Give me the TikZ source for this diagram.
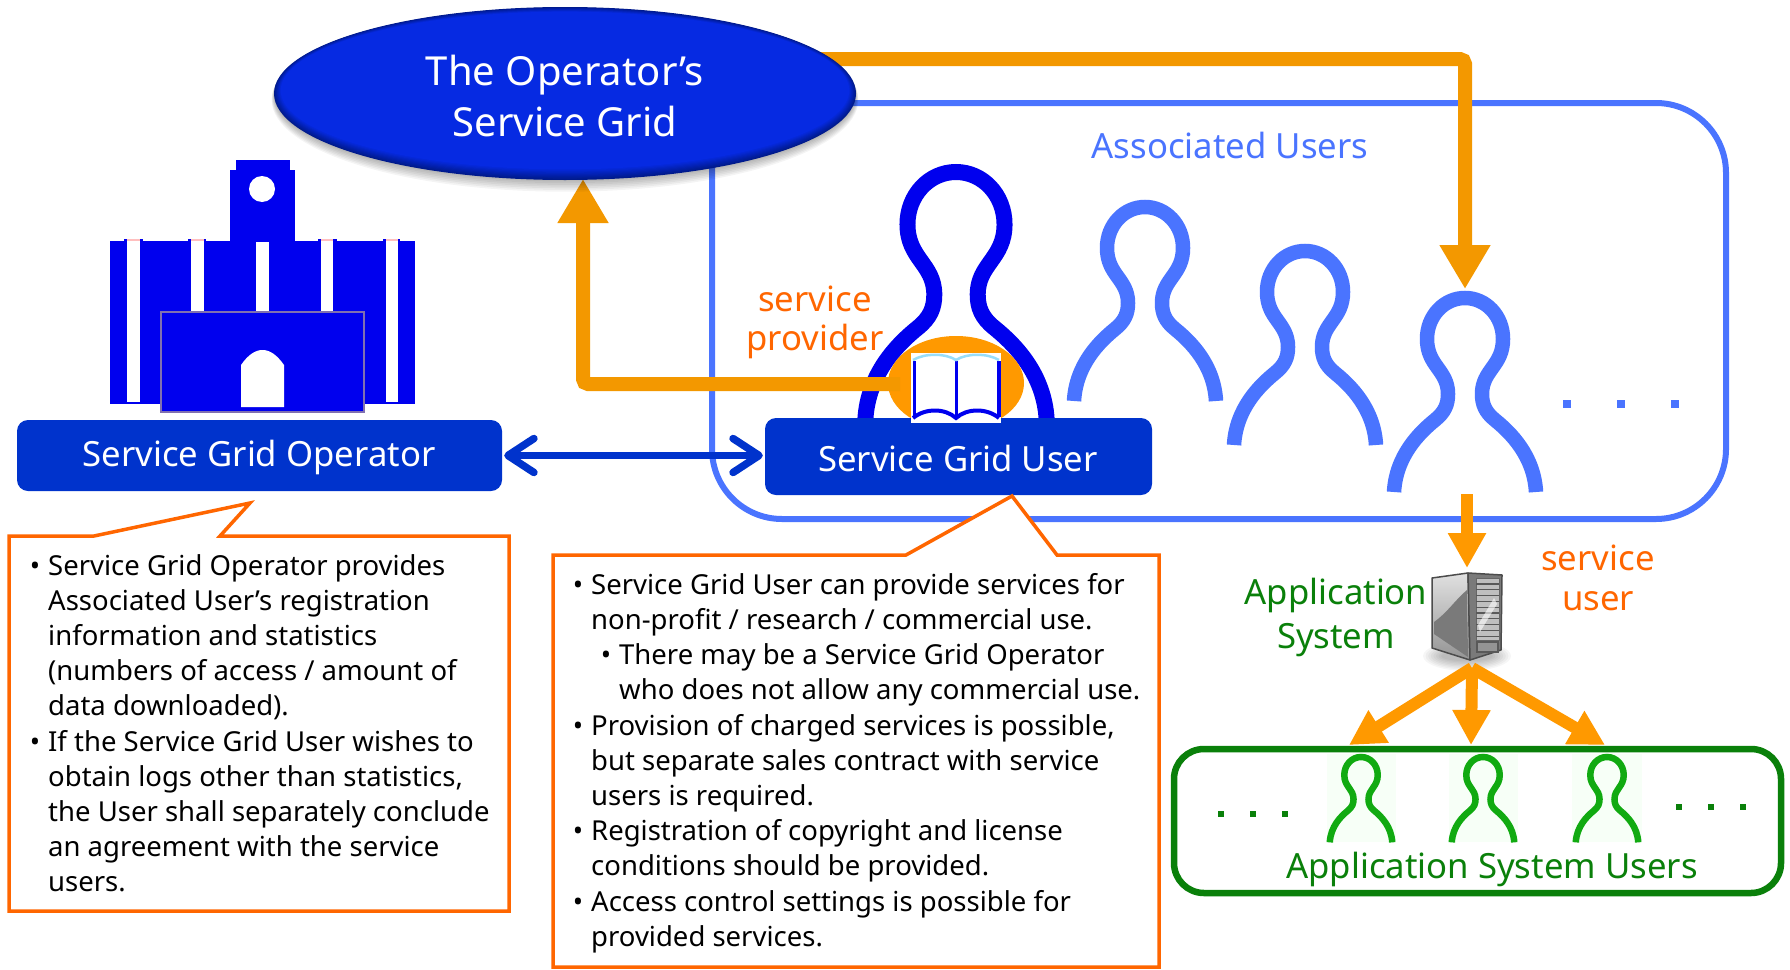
\documentclass[tikz,border=0pt]{standalone}
\usepackage{fontspec}
\setmainfont{Noto Sans}
\usetikzlibrary{arrows.meta,shapes.geometric,calc}
\definecolor{opblue}{HTML}{0033CC}
\definecolor{pure}{HTML}{0000EE}
\definecolor{assoc}{HTML}{4A74FF}
\definecolor{orbar}{HTML}{F39800}
\definecolor{orell}{HTML}{FF9900}
\definecolor{ortxt}{HTML}{FF6600}
\definecolor{gtxt}{HTML}{0A800A}
\definecolor{guser}{HTML}{11AA11}
\definecolor{ballcore}{HTML}{062AE2}
\definecolor{ballrim}{HTML}{001A8C}
\definecolor{frontline}{HTML}{8070B0}
\newcommand{\fsz}[1]{\fontsize{#1}{#1}\selectfont}
\newcommand{\bul}{\makebox[0pt][r]{•\hspace{8pt}}}
\newcommand{\personshape}[5]{% x, y, scale, colour, line width
 \draw[#4,line width=#5,shift={(#1,#2)},x=#3pt,y=-#3pt]
  (-71,194) .. controls (-69,158) and (-46,135) .. (-30,122)
  .. controls (-20,114) and (-17,106) .. (-17,96)
  .. controls (-17,72) and (-38,68) .. (-38,41)
  .. controls (-38,18) and (-21,0) .. (0,0)
  .. controls (21,0) and (38,18) .. (38,41)
  .. controls (38,68) and (17,72) .. (17,96)
  .. controls (17,106) and (20,114) .. (30,122)
  .. controls (46,135) and (69,158) .. (71,194);}
\tikzset{
 flow/.style={line width=14pt,draw=orbar,-{Triangle[length=44pt,width=48pt]}},
 flowb/.style={line width=12pt,draw=orell,-{Triangle[length=35pt,width=36pt]}},
 rolebox/.style={rectangle,rounded corners=11pt,fill=opblue,inner sep=0pt},
 callout/.style={draw=ortxt,line width=3.5pt,fill=white,line join=miter},
 note/.style={anchor=north west,align=left,inner sep=0pt,font=\fontsize{27.5}{35.2}\selectfont},
 lbl/.style={align=center,inner sep=0pt},
 dotb/.style={fill=assoc,minimum size=8pt,inner sep=0pt,rectangle},
 dotg/.style={fill=gtxt,minimum size=6pt,inner sep=0pt,rectangle},
}
\begin{document}
\begin{tikzpicture}[x=1pt,y=-1pt,line cap=butt]
\useasboundingbox (0,0) rectangle (1790,969);
\fill[white] (0,0) rectangle (1790,969);
% associated users frame
\node[draw=assoc,line width=6pt,rectangle,rounded corners=70pt,minimum width=1014pt,minimum height=416pt,inner sep=0pt] (frame) at (1219,311) {};
\node[lbl,text=assoc,font=\fsz{34.7}] (assoclbl) at (1230,145) {Associated Users};
% persons
\personshape{956}{172}{1.277}{pure}{16pt}
\personshape{1145}{207}{1}{assoc}{14.5pt}
\personshape{1305}{251}{1}{assoc}{14.5pt}
\personshape{1465}{298}{1}{assoc}{14.5pt}
\node[dotb] (d1) at (1567,404) {};
\node[dotb] (d2) at (1621,404) {};
\node[dotb] (d3) at (1675,404) {};
% named connector ends
\coordinate (topstart) at (800,59);
\coordinate (topcorner) at (1465,59);
\coordinate (u4top) at (1465,289);
\coordinate (bookw) at (900,384);
\coordinate (leftcorner) at (583,384);
\coordinate (ellbottom) at (583,179);
% orange ellipse behind the book
\node[ellipse,fill=orell,minimum width=136pt,minimum height=94pt,inner sep=0pt] (bookbg) at (956,383) {};
% connectors
\draw[flow,rounded corners=5pt] (topstart) -- (topcorner) -- (u4top);
\draw[flow,rounded corners=5pt] (bookw) -- (leftcorner) -- (ellbottom);
% Service Grid ellipse with shadow and a dark rim
\foreach \i in {0,...,6}{
 \fill[black,opacity=0.045] (565,{95+\i*0.8}) ellipse ({291+\i*0.4} and {86.5+\i*0.9});
}
\node[ellipse,fill=ballrim,minimum width=582pt,minimum height=173pt,inner sep=0pt] (grid) at (565,93.5) {};
\foreach \i in {1,...,9}{
 \pgfmathsetmacro{\mixv}{\i*11.1}
 \fill[ballcore!\mixv!ballrim] (565,{93.5-\i*0.33}) ellipse ({291-\i*0.75} and {86.5-\i*0.85});
}
\node[lbl,text=white,font=\fontsize{40}{51}\selectfont] (gridlbl) at (565,95.5) {The Operator's\\Service Grid};
% role boxes
\node[rolebox,minimum width=485pt,minimum height=71pt] (operator) at (259.5,455.5) {};
\node[lbl,text=white,font=\fsz{34.7}] (operatorlbl) at (259,457.5) {Service Grid Operator};
\node[rolebox,minimum width=387pt,minimum height=77pt] (user) at (958.5,456.5) {};
\node[lbl,text=white,font=\fsz{34.7}] (userlbl) at (958,458) {Service Grid User};
\draw[opblue,line width=7.5pt,line cap=round,line join=round,{Straight Barb[length=26pt,width=34pt,round]}-{Straight Barb[length=26pt,width=34pt,round]},shorten <=2pt,shorten >=2pt] (operator.east) -- (operator.east -| user.west);
% book
\node[fill=white,minimum width=90pt,minimum height=70pt,inner sep=0pt] (book) at (956,388) {};
\draw[pure,line width=3pt] (914,361) -- (914,417);
\draw[pure,line width=3pt] (956,361) -- (956,418);
\draw[pure,line width=4pt] (999,361) -- (999,417);
\draw[pure,line width=4pt] (913,418) .. controls (925,408) and (945,408) .. (956,418) .. controls (967,408) and (987,408) .. (999,418);
\draw[cyan!40!white,line width=2.5pt] (913,360) .. controls (925,353) and (945,353) .. (956,360) .. controls (967,353) and (987,353) .. (999,360);
% building
\fill[pure] (110,241) rectangle (415,404);
\fill[pure] (230,170) rectangle (295,242);
\fill[pure] (236,160) rectangle (290,170);
\fill[pure] (124,239) rectangle (143,241);
\fill[pure] (188,239) rectangle (206,241);
\fill[pure] (318,239) rectangle (337,241);
\fill[pure] (383,239) rectangle (400,241);
\fill[white] (262,189) circle (13pt);
\fill[white] (127,240) rectangle (140,402);
\fill[white] (191,240) rectangle (204,312);
\fill[white] (256,242) rectangle (269,312);
\fill[white] (321,240) rectangle (333,312);
\fill[white] (386,240) rectangle (398,402);
\fill[red!25!white] (127,238.5) rectangle (140,241);
\fill[red!25!white] (191,238.5) rectangle (204,241);
\fill[red!25!white] (321,238.5) rectangle (333,241);
\fill[red!25!white] (386,238.5) rectangle (398,241);
\draw[frontline,line width=1.2pt,fill=pure] (161,312) rectangle (364,412);
\fill[white] (241,407) -- (241,365) .. controls (248,355) and (255,350) .. (262.5,350) .. controls (270,350) and (277,355) .. (284,365) -- (284,407) -- cycle;
% labels
\node[lbl,text=ortxt,font=\fontsize{34.7}{38.8}\selectfont] (provider) at (815,322) {service\\provider};
\node[lbl,text=ortxt,font=\fontsize{34.7}{40}\selectfont] (serviceuser) at (1598,578) {service\\user};
\node[lbl,text=gtxt,font=\fontsize{34.7}{44}\selectfont] (appsys) at (1336,617) {Application\\System};
% callouts
\draw[callout] (9,536) -- (94,536) -- (250,503) -- (220,536) -- (509,536) -- (509,911) -- (9,911) -- cycle;
\draw[callout] (553,555) -- (906,555) -- (1012,496) -- (1057,555) -- (1159,555) -- (1159,967) -- (553,967) -- cycle;
\node[note] (notel) at (48,554) {\bul Service Grid Operator provides\\
Associated User's registration\\
information and statistics\\
(numbers of access / amount of\\
data downloaded).\\
\bul If the Service Grid User wishes to\\
obtain logs other than statistics,\\
the User shall separately conclude\\
an agreement with the service\\
users.};
\node[note] (noter) at (591,573) {\bul Service Grid User can provide services for\\
non-profit / research / commercial use.\\
\hspace*{28pt}\bul There may be a Service Grid Operator\\
\hspace*{28pt}who does not allow any commercial use.\\
\bul Provision of charged services is possible,\\
but separate sales contract with service\\
users is required.\\
\bul Registration of copyright and license\\
conditions should be provided.\\
\bul Access control settings is possible for\\
provided services.};
% application system
\coordinate (u4foot) at (1467,494);
\coordinate (srvtop) at (1467,568);
\coordinate (srvfan) at (1472,668);
\coordinate (fanl) at (1349,745);
\coordinate (fanm) at (1471,745);
\coordinate (fanr) at (1605,745);
\draw[flowb] (u4foot) -- (srvtop);
% server
\foreach \i in {0,...,7}{
 \fill[black,opacity=0.035] (1467,656) ellipse ({44-\i*2.6} and {15-\i*1.4});
}
\draw[black!70,line width=1.5pt,line join=round,top color=black!12,bottom color=black!42] (1432,578) -- (1468,573) -- (1470,660) -- (1432,648) -- cycle;
\fill[black!52] (1434,634) -- (1434,622) .. controls (1448,612) and (1455,600) .. (1467,590) -- (1468,657) -- cycle;
\draw[black!70,line width=1.5pt,line join=round,fill=black!52] (1468,573) -- (1502,575) -- (1501,650) -- (1470,660) -- cycle;
\draw[black!60,line width=1pt,fill=black!25] (1476,578) rectangle (1499,640);
\foreach \i in {0,...,9}{
 \draw[black!65,line width=1.2pt] (1476,{584+\i*5.8}) -- (1499,{584+\i*5.8});
}
\fill[white,opacity=0.6] (1478,625) -- (1494,598) -- (1497,604) -- (1480,632) -- cycle;
\draw[black!65,line width=1.2pt,fill=black!42] (1477,642) rectangle (1498,652);
\draw[flowb] (srvfan) -- (fanl);
\draw[flowb] (srvfan) -- (fanr);
\draw[flowb] (srvfan) -- (fanm);
% application system users
\node[draw=gtxt,line width=6.5pt,rectangle,rounded corners=30pt,minimum width=607pt,minimum height=144pt,inner sep=0pt] (appframe) at (1477.5,821) {};
\fill[green!3!white] (1327,754) rectangle (1396,842);
\fill[green!3!white] (1449,754) rectangle (1518,842);
\fill[green!3!white] (1572,754) rectangle (1642,842);
\personshape{1361}{757}{0.44}{guser}{6.5pt}
\personshape{1483}{757}{0.44}{guser}{6.5pt}
\personshape{1607}{757}{0.44}{guser}{6.5pt}
\node[dotg] (g1) at (1221,814) {};
\node[dotg] (g2) at (1253,814) {};
\node[dotg] (g3) at (1285,814) {};
\node[dotg] (g4) at (1679,807) {};
\node[dotg] (g5) at (1711,807) {};
\node[dotg] (g6) at (1743,807) {};
\node[lbl,text=gtxt,font=\fsz{34.7}] (appusers) at (1492,869) {Application System Users};
\end{tikzpicture}
\end{document}
